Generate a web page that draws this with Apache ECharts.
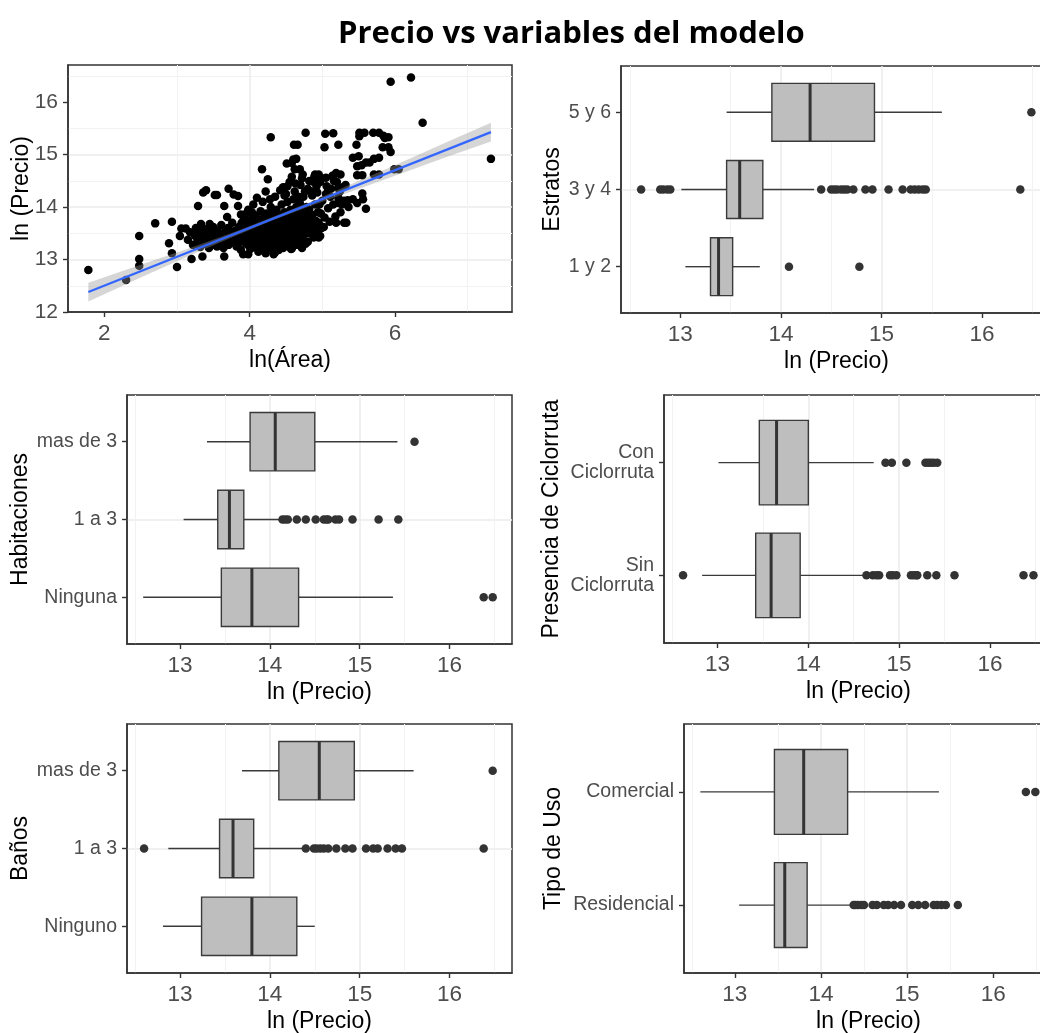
<!DOCTYPE html>
<html><head><meta charset="utf-8">
<script src="https://cdn.jsdelivr.net/npm/echarts@6/dist/echarts.min.js"></script>
<style>html,body{margin:0;padding:0;background:#fff}#c{width:1040px;height:1033px}</style>
</head><body><div id="c"></div><script>
// ---------- DATA ----------
const chartTitle = 'Precio vs variables del modelo';
const precioTicks = [13, 14, 15, 16];
const areaTicks = [2, 4, 6];
const lnPrecioTicks = [12, 13, 14, 15, 16];

// Panel 1: ln(Área) vs ln(Precio)
const areaX = [
 1.78,2.30,2.48,2.48,2.48,2.70,2.93,2.89,2.93,3.00,3.04,3.20,3.06,3.12,3.29,3.35,3.36,3.40,3.52,3.55,3.65,3.65,3.71,3.78,3.84,3.84,3.88,3.91,3.98,3.33,3.45,3.69,3.96,
 4.17,4.29,4.25,4.46,4.51,4.60,4.61,4.62,4.77,4.73,4.51,4.58,4.68,4.95,4.93,5.04,5.15,5.03,5.22,4.95,5.05,5.15,5.19,5.22,5.22,5.19,5.30,5.35,5.42,5.48,5.48,5.51,5.51,5.47,5.42,5.48,5.55,5.56,5.60,5.60,5.71,5.70,5.84,5.86,5.83,5.94,5.71,5.99,5.94,6.22,6.38,7.32,
 4.66,4.64,4.58,4.69,4.89,4.99,5.14,5.25,5.58,5.78,5.91,5.91,5.50,5.54,5.65,5.78,5.55,5.78,6.05,
 3.15,3.18,3.22,3.25,3.28,3.30,3.32,3.35,3.36,3.38,3.40,3.42,3.44,3.45,3.47,3.48,3.50,3.52,3.53,3.55,3.56,3.58,3.60,3.61,3.63,3.64,3.66,3.68,3.70,3.71,3.73,3.75,3.76,3.78,3.80,3.82,3.83,3.85,3.86,3.88,3.90,3.91,
 3.93,3.95,3.96,3.98,4.00,4.01,4.02,4.04,4.05,4.06,4.08,4.09,4.10,4.11,4.12,4.13,4.14,4.15,4.16,4.17,4.18,4.19,4.20,4.21,4.22,4.23,4.24,4.25,4.26,4.27,4.28,4.29,4.30,4.31,4.32,4.33,4.34,4.35,4.36,4.37,4.38,4.39,4.40,4.41,4.42,4.43,4.44,4.45,4.46,4.47,4.48,4.49,4.50,4.51,4.52,4.53,4.54,4.55,4.56,4.57,4.58,4.59,4.60,4.61,4.62,4.63,4.64,4.65,4.66,4.67,4.68,4.69,4.70,4.71,4.72,4.73,4.74,4.75,4.76,4.77,4.78,4.80,4.81,4.82,4.84,4.85,4.86,4.88,4.90,
 4.03,4.07,4.12,4.16,4.20,4.24,4.27,4.31,4.35,4.38,4.42,4.46,4.50,4.54,4.58,4.62,4.66,4.70,4.06,4.15,4.22,4.29,4.33,4.40,4.48,4.57,4.64,4.72,4.80,4.88,4.92,4.95,4.97,4.98,5.00,5.02,5.05,5.08,5.10,5.12,5.15,5.18,5.20,5.22,5.25,5.28,5.30,5.33,4.92,4.95,4.88,4.80,4.70,4.62,4.55,4.50,4.42,4.35,4.28,4.22,4.18,4.10,4.05,3.98,3.92,
 3.92,3.94,3.97,3.99,4.01,4.03,4.05,4.07,4.09,4.11,4.13,4.14,4.16,4.18,4.19,4.21,4.23,4.25,4.26,4.28,4.30,4.32,4.33,4.34,4.36,4.37,4.39,4.41,4.43,4.44,4.45,4.47,4.49,4.51,4.53,4.55,4.56,4.58,4.60,4.61,4.63,4.65,4.67,4.69,4.71,4.73,4.75,4.77,4.79,4.83,4.87,4.91,4.94,4.96,4.99,5.03,5.06,5.11,5.16,5.24,5.27,5.32,5.36,
 4.48,4.52,4.58,4.63,4.67,4.72,4.76,4.82,4.86,4.90,4.93,4.97,
 3.26,3.31,3.37,3.43,3.49,3.54,3.59,3.62,3.67,3.72,3.77,3.81,3.84,3.87,3.89
];
const precioY = [
 12.80,12.61,13.45,13.01,12.88,13.69,13.72,13.31,13.12,12.86,13.45,13.01,13.59,13.59,14.02,13.06,14.28,14.32,14.23,14.23,14.02,13.06,14.35,14.24,14.21,14.02,13.86,13.10,13.10,13.68,13.68,13.81,13.89,
 14.72,15.33,14.53,14.38,14.83,14.91,15.19,14.72,15.42,14.62,13.26,13.21,13.35,13.42,13.58,15.40,15.41,15.14,15.19,14.62,14.56,14.60,14.65,14.37,14.08,13.70,13.70,14.13,14.94,14.78,14.61,15.42,15.35,15.19,14.15,14.08,14.26,14.15,13.97,14.85,14.92,15.42,15.36,15.32,15.14,15.05,14.62,14.72,16.39,16.47,15.61,14.92,
 15.19,14.92,14.84,14.72,14.58,14.55,14.60,14.62,15.42,15.42,15.33,15.14,14.97,14.80,14.85,14.94,14.61,14.62,14.72,
 13.38,13.52,13.28,13.45,13.33,13.55,13.24,13.40,13.48,13.30,13.58,13.36,13.22,13.50,13.42,13.28,13.62,13.35,13.47,13.25,13.55,13.38,13.30,13.66,13.44,13.22,13.52,13.35,13.60,13.28,13.46,13.40,13.70,13.32,13.55,13.25,13.48,13.62,13.38,13.18,13.52,13.44,
 13.65,13.30,13.58,13.42,13.75,13.20,13.50,13.36,13.62,13.85,13.28,13.55,13.45,13.70,13.15,13.38,13.60,13.92,13.50,13.25,13.78,13.42,13.65,13.33,13.55,13.88,13.20,13.48,13.72,13.60,13.38,14.00,13.52,13.28,13.80,13.45,13.65,13.14,13.58,13.95,13.40,13.70,13.30,13.85,13.55,13.62,14.05,13.48,13.22,13.75,13.90,13.58,13.35,13.68,14.10,13.82,13.50,13.28,13.95,13.62,13.42,13.75,14.15,13.55,13.88,13.35,14.00,13.70,13.48,13.80,13.60,14.08,13.92,13.40,13.72,13.55,14.20,13.85,13.65,13.30,14.00,13.78,13.50,13.95,13.68,14.30,13.85,13.60,14.05,
 13.44,13.66,13.52,13.34,13.78,13.60,13.46,13.68,13.52,13.84,13.38,13.64,13.78,13.70,13.52,13.72,13.92,13.62,13.24,13.18,13.12,13.22,13.10,13.18,13.26,13.20,13.28,13.22,13.34,13.42,13.55,13.70,13.45,13.88,14.12,13.62,14.25,13.98,13.72,14.35,14.05,13.82,14.48,14.18,13.90,14.38,14.12,13.70,14.40,14.55,14.48,14.35,14.42,14.30,14.48,14.25,14.32,14.20,14.15,14.30,14.10,14.18,14.05,13.95,13.82,
 13.36,13.72,13.50,13.26,13.62,13.90,13.40,13.54,13.80,13.30,13.72,13.46,13.64,13.56,13.30,13.86,13.42,13.66,13.36,13.76,13.62,13.40,13.90,13.56,13.30,13.74,13.50,13.64,13.44,13.80,13.30,13.58,13.86,13.46,13.60,13.84,13.40,13.66,13.48,13.80,13.60,13.40,13.68,13.52,13.84,13.66,13.48,13.74,13.60,13.82,13.52,13.74,13.90,14.05,13.60,13.80,14.40,14.20,14.50,14.30,14.05,14.42,14.00,
 14.22,14.40,14.58,14.45,14.20,14.55,14.30,14.50,14.22,14.62,14.28,14.48,
 13.60,13.42,13.56,13.46,13.38,13.52,13.46,13.36,13.44,13.56,13.48,13.40,13.30,13.56,13.70
];
// Linear fit and its confidence band
const fitX = [1.78, 7.32];
const fitY = [12.38, 15.43];
const bandX  = [1.78, 2.5, 3.2, 3.8, 4.3, 4.8, 5.4, 6.0, 6.7, 7.32];
const bandLo = [12.20, 12.66, 13.09, 13.45, 13.74, 14.00, 14.30, 14.60, 14.95, 15.25];
const bandHi = [12.56, 12.90, 13.23, 13.53, 13.80, 14.08, 14.44, 14.80, 15.23, 15.61];

// Box plots: [lower whisker, Q1, median, Q3, upper whisker]
const estratosCats = ['1 y 2', '3 y 4', '5 y 6'];
const estratosBox = [[13.05,13.30,13.38,13.52,13.79],[13.01,13.46,13.59,13.82,14.33],[13.46,13.91,14.29,14.93,15.60]];
const estratosOut = [[14.08,14.78],[12.61,12.80,12.83,12.87,12.90,14.40,14.50,14.53,14.56,14.60,14.63,14.66,14.72,14.84,14.91,15.07,15.21,15.29,15.33,15.37,15.41,15.44,16.38],[16.49]];

const habCats = ['Ninguna', '1 a 3', 'mas de 3'];
const habBox = [[12.59,13.46,13.80,14.32,15.37],[13.04,13.42,13.55,13.71,14.11],[13.30,13.78,14.06,14.50,15.42]];
const habOut = [[16.38,16.48],[14.14,14.17,14.20,14.30,14.40,14.51,14.60,14.63,14.65,14.73,14.77,14.92,15.21,15.43],[15.61]];

const cicloCats = ['Sin\nCiclorruta', 'Con\nCiclorruta'];
const cicloBox = [[12.83,13.42,13.59,13.91,14.60],[13.01,13.46,13.65,14.00,14.72]];
const cicloOut = [[12.62,14.64,14.71,14.75,14.78,14.90,14.93,14.97,15.13,15.16,15.19,15.20,15.31,15.41,15.61,16.37,16.48],[14.85,14.92,15.08,15.29,15.32,15.35,15.38,15.42]];

const banosCats = ['Ninguno', '1 a 3', 'mas de 3'];
const banosBox = [[12.81,13.24,13.80,14.30,14.50],[12.87,13.44,13.59,13.82,14.36],[13.69,14.10,14.55,14.94,15.60]];
const banosOut = [[],[12.60,14.40,14.49,14.52,14.56,14.60,14.65,14.74,14.84,14.92,15.07,15.15,15.20,15.31,15.40,15.47,16.38],[16.48]];

const usoCats = ['Residencial', 'Comercial'];
const usoBox = [[13.05,13.46,13.58,13.84,14.34],[12.60,13.46,13.80,14.31,15.37]];
const usoOut = [[14.38,14.40,14.43,14.47,14.50,14.60,14.65,14.73,14.78,14.85,14.93,15.06,15.13,15.21,15.31,15.35,15.40,15.45,15.59],[16.38,16.49]];

// ---------- STYLE / LAYOUT ----------
const FONT = '"Liberation Sans", Arial, sans-serif';
const DARK = '#333333';
const GRIDC = '#ebebeb';
const precioRange = [12.41, 16.695];

const grids = [
  {left: 68,  top: 65,  width: 444, height: 247},
  {left: 621, top: 66,  width: 431, height: 247},
  {left: 127, top: 395, width: 385, height: 249},
  {left: 664, top: 395, width: 389, height: 248},
  {left: 127, top: 724, width: 385, height: 249},
  {left: 684, top: 724, width: 369, height: 249}
].map(g => Object.assign({show: true, borderColor: DARK, borderWidth: 1.5, backgroundColor: '#fff', containLabel: false, outerBoundsMode: 'none'}, g));

function nameStyle() { return {color: '#000', fontSize: 23, fontFamily: FONT}; }

function xAxisCfg(gi, range, ticks, name, splitNumber) {
  return {
    gridIndex: gi, type: 'value', min: range[0], max: range[1], splitNumber: splitNumber,
    axisLine: {show: true, onZero: false, lineStyle: {color: DARK, width: 1.5}},
    axisTick: {show: true, length: 5, customValues: ticks, lineStyle: {color: DARK, width: 1.4}},
    axisLabel: {customValues: ticks, color: '#4d4d4d', fontSize: 22.5, fontFamily: FONT, margin: 10},
    splitLine: {show: true, showMinLine: false, showMaxLine: false, lineStyle: {color: GRIDC, width: 1.5}},
    minorTick: {show: false, splitNumber: 2},
    minorSplitLine: {show: true, lineStyle: {color: '#f2f2f2', width: 1}},
    name: name, nameLocation: 'middle', nameGap: 37, nameMoveOverlap: false, nameTextStyle: nameStyle()
  };
}
function yCatAxisCfg(gi, cats, name, gap) {
  const pos = cats.map((c, i) => i + 1);
  return {
    gridIndex: gi, type: 'value', min: 0.4, max: cats.length + 0.6, splitNumber: cats.length,
    axisLine: {show: true, onZero: false, lineStyle: {color: DARK, width: 1.5}},
    axisTick: {show: true, length: 5, customValues: pos, lineStyle: {color: DARK, width: 1.4}},
    axisLabel: {customValues: pos, color: '#4d4d4d', fontSize: 19.5, lineHeight: 20, fontFamily: FONT, margin: 10,
      formatter: v => cats[Math.round(v) - 1] || ''},
    splitLine: {show: true, showMinLine: false, showMaxLine: false, lineStyle: {color: GRIDC, width: 1.5}},
    name: name, nameLocation: 'middle', nameGap: gap, nameMoveOverlap: false, nameTextStyle: nameStyle()
  };
}

const xAxes = [
  xAxisCfg(0, [1.5, 7.61], areaTicks, 'ln(Área)', 3),
  xAxisCfg(1, precioRange, precioTicks, 'ln (Precio)', 4),
  xAxisCfg(2, precioRange, precioTicks, 'ln (Precio)', 4),
  xAxisCfg(3, precioRange, precioTicks, 'ln (Precio)', 4),
  xAxisCfg(4, precioRange, precioTicks, 'ln (Precio)', 4),
  xAxisCfg(5, precioRange, precioTicks, 'ln (Precio)', 4)
];
const yAxes = [
  {
    gridIndex: 0, type: 'value', min: 12, max: 16.71, splitNumber: 5,
    axisLine: {show: true, onZero: false, lineStyle: {color: DARK, width: 1.5}},
    axisTick: {show: true, length: 5, customValues: lnPrecioTicks, lineStyle: {color: DARK, width: 1.4}},
    axisLabel: {customValues: lnPrecioTicks, color: '#4d4d4d', fontSize: 21, fontFamily: FONT, margin: 10},
    splitLine: {show: true, showMinLine: false, showMaxLine: false, lineStyle: {color: GRIDC, width: 1.5}},
    minorTick: {show: false, splitNumber: 2},
    minorSplitLine: {show: true, lineStyle: {color: '#f2f2f2', width: 1}},
    name: 'ln (Precio)', nameLocation: 'middle', nameGap: 35, nameMoveOverlap: false, nameTextStyle: nameStyle()
  },
  yCatAxisCfg(1, estratosCats, 'Estratos', 57),
  yCatAxisCfg(2, habCats, 'Habitaciones', 95),
  yCatAxisCfg(3, cicloCats, 'Presencia de Ciclorruta', 101),
  yCatAxisCfg(4, banosCats, 'Baños', 95),
  yCatAxisCfg(5, usoCats, 'Tipo de Uso', 119)
];

function renderBox(params, api) {
  const y = api.value(0);
  const lo = api.value(1), q1 = api.value(2), med = api.value(3), q3 = api.value(4), hi = api.value(5);
  const h = 0.375;
  const pLo = api.coord([lo, y]), pQ1 = api.coord([q1, y]), pQ3 = api.coord([q3, y]), pHi = api.coord([hi, y]);
  const tl = api.coord([q1, y + h]), br = api.coord([q3, y - h]);
  const mt = api.coord([med, y + h]), mb = api.coord([med, y - h]);
  const ls = {stroke: '#3a3a3a', lineWidth: 1.4};
  return {type: 'group', children: [
    {type: 'line', shape: {x1: pLo[0], y1: pLo[1], x2: pQ1[0], y2: pQ1[1]}, style: ls},
    {type: 'line', shape: {x1: pQ3[0], y1: pQ3[1], x2: pHi[0], y2: pHi[1]}, style: ls},
    {type: 'rect', shape: {x: tl[0], y: tl[1], width: br[0] - tl[0], height: br[1] - tl[1]}, style: {fill: '#bebebe', stroke: '#3a3a3a', lineWidth: 1.4}},
    {type: 'line', shape: {x1: mt[0], y1: mt[1], x2: mb[0], y2: mb[1]}, style: {stroke: '#333', lineWidth: 3}}
  ]};
}

function boxSeries(gi, boxes, outs) {
  return [
    {type: 'custom', xAxisIndex: gi, yAxisIndex: gi, renderItem: renderBox,
     encode: {x: [1, 2, 3, 4, 5], y: 0}, silent: true,
     data: boxes.map((b, i) => [i + 1].concat(b))},
    {type: 'scatter', xAxisIndex: gi, yAxisIndex: gi, symbol: 'circle', symbolSize: 8.5, silent: true,
     itemStyle: {color: '#333', opacity: 1}, z: 3,
     data: outs.flatMap((arr, i) => arr.map(v => [v, i + 1]))}
  ];
}

const series = [
  {type: 'scatter', xAxisIndex: 0, yAxisIndex: 0, symbol: 'circle', symbolSize: 8.5, silent: true,
   itemStyle: {color: '#000', opacity: 1}, data: areaX.map((x, i) => [x, precioY[i]])},
  {type: 'custom', xAxisIndex: 0, yAxisIndex: 0, silent: true, z: 4,
   data: [[bandX[0], bandLo[0]]],
   renderItem: function (params, api) {
     const pts = [];
     bandX.forEach((x, i) => pts.push(api.coord([x, bandHi[i]])));
     for (let i = bandX.length - 1; i >= 0; i--) pts.push(api.coord([bandX[i], bandLo[i]]));
     return {type: 'polygon', shape: {points: pts}, style: {fill: 'rgba(153,153,153,0.4)'}};
   }},
  {type: 'line', xAxisIndex: 0, yAxisIndex: 0, silent: true, z: 5, symbol: 'none',
   lineStyle: {color: '#3366FF', width: 2.2}, data: fitX.map((x, i) => [x, fitY[i]])}
].concat(
  boxSeries(1, estratosBox, estratosOut),
  boxSeries(2, habBox, habOut),
  boxSeries(3, cicloBox, cicloOut),
  boxSeries(4, banosBox, banosOut),
  boxSeries(5, usoBox, usoOut)
);

const chart = echarts.init(document.getElementById('c'), null, {renderer: 'canvas'});
chart.setOption({
  animation: false,
  backgroundColor: '#fff',
  title: {text: chartTitle, left: 333, top: 14,
    textStyle: {fontFamily: '"Open Sans", Lato, sans-serif', fontWeight: 'bold', fontSize: 31, color: '#000'}},
  grid: grids,
  xAxis: xAxes,
  yAxis: yAxes,
  series: series
});
</script></body></html>
